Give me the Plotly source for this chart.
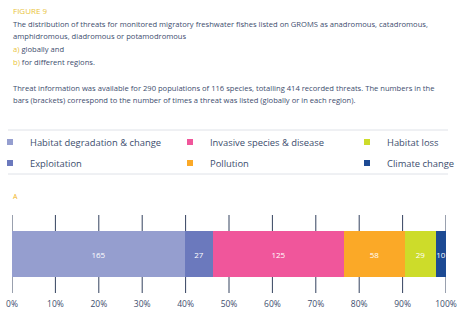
import plotly.graph_objects as go

W, H = 465, 326

# Threat categories in stacking order, with counts (globally)
threats = ["Habitat degradation & change", "Exploitation", "Invasive species & disease",
           "Pollution", "Habitat loss", "Climate change"]
counts = [165, 27, 125, 58, 29, 10]
colors = ["#959ecf", "#6b79bd", "#f0569b", "#fba927", "#cddc2a", "#1d4a93"]
# legend grid: (column, row) of each threat
legend_cell = {
    "Habitat degradation & change": (0, 0), "Invasive species & disease": (1, 0), "Habitat loss": (2, 0),
    "Exploitation": (0, 1), "Pollution": (1, 1), "Climate change": (2, 1),
}
row_label = ["A"]
tick_vals = [0, 10, 20, 30, 40, 50, 60, 70, 80, 90, 100]
tick_text = [f"{v}%" for v in tick_vals]

total = sum(counts)
TXT = "#3d4d6e"
YEL = "#e9c33a"
FONT = "Open Sans, sans-serif"
GRID = "#34425f"

LEG_COL_X = [-10, 170, 347]   # left edge of each legend column, px
LEG_ROW_Y = [142, 163]        # centre of each legend row, px


def py(p):
    return 1 - p / H


fig = go.Figure()

# vertical guide lines at each tick, behind the bar
for v in tick_vals:
    fig.add_shape(type="line", xref="x", yref="paper", x0=v, x1=v, y0=py(293), y1=py(215),
                  line=dict(color=GRID, width=1), layer="below")

for name, c, col in zip(threats, counts, colors):
    fig.add_trace(go.Bar(
        y=row_label, x=[c / total * 100], orientation="h", name=name,
        marker=dict(color=col, line=dict(width=0)), width=0.59,
        text=[str(c)], textposition="inside", insidetextanchor="middle", constraintext="none",
        textfont=dict(color="white", size=8, family=FONT), showlegend=False,
    ))

# legend swatches: one single-entry legend per cell of the legend grid
legends = {}
for i, name in enumerate(threats):
    lg = "legend" if i == 0 else f"legend{i + 1}"
    cx, ry = legend_cell[name]
    fig.add_trace(go.Scatter(
        x=[None], y=[None], mode="markers", name=name, legend=lg,
        marker=dict(symbol="square", size=6, color=colors[i]), showlegend=True,
    ))
    legends[lg] = dict(orientation="v", xanchor="left", yanchor="middle",
                       x=LEG_COL_X[cx] / W, y=py(LEG_ROW_Y[ry]),
                       font=dict(size=9.4, color=TXT, family=FONT),
                       itemclick=False, itemdoubleclick=False, bgcolor="rgba(0,0,0,0)")

fig.update_layout(
    width=W, height=H, margin=dict(l=0, r=0, t=0, b=0, autoexpand=False),
    paper_bgcolor="white", plot_bgcolor="rgba(0,0,0,0)",
    barmode="stack", bargap=0,
    font=dict(family=FONT, color=TXT),
    xaxis=dict(domain=[12 / W, 446 / W], range=[0, 100], tickvals=tick_vals, ticktext=tick_text,
               showgrid=False, zeroline=False, showline=False, ticks="", ticklabelstandoff=4,
               tickfont=dict(size=8.5, color=TXT, family=FONT), fixedrange=True),
    yaxis=dict(domain=[py(293), py(215)], range=[-0.5, 0.5], showticklabels=False,
               showgrid=False, zeroline=False, fixedrange=True),
    showlegend=True,
    **legends,
)

# rules above and below the legend
for yy in (130, 174):
    fig.add_shape(type="line", xref="paper", yref="paper", x0=8 / W, x1=448 / W,
                  y0=py(yy), y1=py(yy), line=dict(color="#dfe2e8", width=1))

BODY = 7.6
lines = [
    (10, "FIGURE 9", YEL, 8),
    (24, "The distribution of threats for monitored migratory freshwater fishes listed on GROMS as anadromous, catadromous,", TXT, BODY),
    (36, "amphidromous, diadromous or potamodromous", TXT, BODY),
    (49, f"<span style='color:{YEL}'>a)</span> globally and", TXT, BODY),
    (62, f"<span style='color:{YEL}'>b)</span> for different regions.", TXT, BODY),
    (88, "Threat information was available for 290 populations of 116 species, totalling 414 recorded threats. The numbers in the", TXT, BODY),
    (100, "bars (brackets) correspond to the number of times a threat was listed (globally or in each region).", TXT, BODY),
]
for y, t, col, sz in lines:
    fig.add_annotation(xref="paper", yref="paper", x=11 / W, y=py(y), text=t, showarrow=False,
                       xanchor="left", yanchor="middle", font=dict(size=sz, color=col, family=FONT))

fig.add_annotation(xref="paper", yref="paper", x=11 / W, y=py(197), text="A", showarrow=False,
                   xanchor="left", yanchor="middle", font=dict(size=7, color="#f0b323", family=FONT))

fig.write_html("out.html")
